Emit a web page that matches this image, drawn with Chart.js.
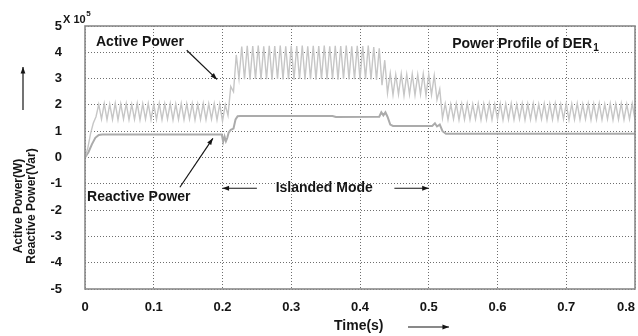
<!DOCTYPE html>
<html>
<head>
<meta charset="utf-8">
<script src="https://cdn.jsdelivr.net/npm/chart.js@4.4.1/dist/chart.umd.min.js"></script>
<style>
  html, body { margin: 0; padding: 0; background: #fff; }
</style>
</head>
<body>
<canvas id="chart" width="638" height="336"></canvas>
<script>
// data, in units of 1e5 (see "X 10^5" label)
const sampleStep = 0.004; // s, sampling interval of the active power trace
const activePower = [
  0, 0.35, 0.9, 1.3, 1.55, 2.02, 1.46, 2.05, 1.44, 2.03,
  1.45, 2.06, 1.43, 2.04, 1.46, 2.05, 1.44, 2.02, 1.45, 2.06,
  1.43, 2.04, 1.46, 2.05, 1.44, 2.03, 1.45, 2.06, 1.44, 2.04,
  1.46, 2.05, 1.43, 2.03, 1.45, 2.06, 1.44, 2.04, 1.46, 2.05,
  1.43, 2.03, 1.45, 2.06, 1.44, 2.04, 1.46, 2.05, 1.43, 2.03,
  1.38, 2.0, 1.6, 2.7, 2.5, 3.9, 3.0, 4.22, 2.98, 4.25,
  2.96, 4.24, 2.99, 4.26, 2.97, 4.23, 2.98, 4.25, 2.96, 4.24,
  2.99, 4.26, 2.97, 4.23, 2.98, 4.25, 2.96, 4.24, 2.99, 4.26,
  2.97, 4.23, 2.98, 4.25, 2.96, 4.24, 2.99, 4.26, 2.97, 4.23,
  2.98, 4.25, 2.96, 4.24, 2.99, 4.26, 2.97, 4.23, 2.98, 4.25,
  2.96, 4.24, 2.99, 4.26, 2.97, 4.2, 2.95, 4.15, 2.75, 3.7,
  2.45, 3.2, 2.38, 3.15, 2.4, 3.18, 2.36, 3.16, 2.4, 3.17,
  2.37, 3.15, 2.4, 3.18, 2.36, 3.16, 2.38, 3.12, 2.2, 2.6,
  1.5, 2.05, 1.44, 2.03, 1.46, 2.05, 1.43, 2.04, 1.45, 2.06,
  1.44, 2.03, 1.46, 2.05, 1.43, 2.04, 1.45, 2.06, 1.44, 2.03,
  1.46, 2.05, 1.43, 2.04, 1.45, 2.06, 1.44, 2.03, 1.46, 2.05,
  1.43, 2.04, 1.45, 2.06, 1.44, 2.03, 1.46, 2.05, 1.43, 2.04,
  1.45, 2.06, 1.44, 2.03, 1.46, 2.05, 1.43, 2.04, 1.45, 2.06,
  1.44, 2.03, 1.46, 2.05, 1.43, 2.04, 1.45, 2.06, 1.44, 2.03,
  1.46, 2.05, 1.43, 2.04, 1.45, 2.06, 1.44, 2.03, 1.46, 2.05,
  1.44
];
const reactiveTime = [0, 0.005, 0.01, 0.015, 0.02, 0.025, 0.199, 0.201, 0.203, 0.205,
  0.207, 0.209, 0.212, 0.216, 0.219, 0.222, 0.226, 0.36, 0.365, 0.428,
  0.431, 0.434, 0.437, 0.44, 0.444, 0.448, 0.505, 0.509, 0.512, 0.516,
  0.52, 0.525, 0.8];
const reactivePower = [0, 0.2, 0.5, 0.75, 0.86, 0.87, 0.87, 0.6, 0.8, 0.62,
  0.75, 0.95, 1.05, 1.1, 1.45, 1.57, 1.58, 1.58, 1.54, 1.55,
  1.72, 1.6, 1.72, 1.55, 1.25, 1.2, 1.2, 1.3, 1.18, 1.25,
  1.0, 0.9, 0.9];
const xTickLabels = ["0", "0.1", "0.2", "0.3", "0.4", "0.5", "0.6", "0.7", "0.8     "];
const yTickLabels = ["-5", "-4", "-3", "-2", "-1", "0", "1", "2", "3", "4", "5"];

const FONT = '"Liberation Sans", Arial, sans-serif';
const INK = "#151515";
const FRAME = "#8a8a8a";

function arrow(ctx, x1, y1, x2, y2) {
  const ang = Math.atan2(y2 - y1, x2 - x1);
  ctx.beginPath();
  ctx.moveTo(x1, y1);
  ctx.lineTo(x2, y2);
  ctx.stroke();
  ctx.beginPath();
  ctx.moveTo(x2, y2);
  ctx.lineTo(x2 - 7 * Math.cos(ang - 0.35), y2 - 7 * Math.sin(ang - 0.35));
  ctx.lineTo(x2 - 7 * Math.cos(ang + 0.35), y2 - 7 * Math.sin(ang + 0.35));
  ctx.closePath();
  ctx.fill();
}

// frame, labels and arrows
const notes = {
  id: "notes",
  afterDraw(chart) {
    const { ctx, chartArea: a, scales: { x, y } } = chart;
    const px = v => x.getPixelForValue(v);
    const py = v => y.getPixelForValue(v);
    ctx.save();

    ctx.strokeStyle = FRAME;
    ctx.lineWidth = 1.6;
    ctx.strokeRect(a.left, a.top, a.right - a.left, a.bottom - a.top);

    ctx.fillStyle = INK;
    ctx.strokeStyle = INK;
    ctx.lineWidth = 1.2;
    ctx.textBaseline = "middle";

    ctx.font = "bold 14px " + FONT;
    ctx.textAlign = "left";
    ctx.fillText("Active Power", px(0.016), py(4.4));
    ctx.fillText("Reactive Power", px(0.003), py(-1.51));
    const title = "Power Profile of DER";
    ctx.fillText(title, px(0.534), py(4.32));
    const tw = ctx.measureText(title).width;
    ctx.font = "bold 10px " + FONT;
    ctx.fillText("1", px(0.534) + tw + 1, py(4.32) + 4);

    ctx.font = "bold 14px " + FONT;
    ctx.textAlign = "center";
    ctx.fillText("Islanded Mode", px(0.348), py(-1.17));

    arrow(ctx, px(0.148), py(4.08), px(0.192), py(2.97));
    arrow(ctx, px(0.138), py(-1.13), px(0.186), py(0.73));
    arrow(ctx, px(0.25), py(-1.17), px(0.2), py(-1.17));
    arrow(ctx, px(0.45), py(-1.17), px(0.5), py(-1.17));

    // x title
    ctx.textAlign = "left";
    ctx.fillText("Time(s)", 334, 326);
    arrow(ctx, 408, 327, 449, 327);

    // exponent
    ctx.font = "bold 11px " + FONT;
    ctx.fillText("X 10", 63, 20);
    const ew = ctx.measureText("X 10").width;
    ctx.font = "bold 8px " + FONT;
    ctx.fillText("5", 63 + ew + 0.5, 14);

    // y title
    ctx.font = "bold 12px " + FONT;
    ctx.textAlign = "center";
    ctx.save();
    ctx.translate(19, 206);
    ctx.rotate(-Math.PI / 2);
    ctx.fillText("Active Power(W)", 0, 0);
    ctx.restore();
    ctx.save();
    ctx.translate(32, 206);
    ctx.rotate(-Math.PI / 2);
    ctx.fillText("Reactive Power(Var)", 0, 0);
    ctx.restore();
    arrow(ctx, 23, 110, 23, 67);

    ctx.restore();
  }
};

const activePoints = activePower.map((v, i) => ({ x: i * sampleStep, y: v }));
const reactivePoints = reactivePower.map((v, i) => ({ x: reactiveTime[i], y: v }));

const grid = {
  color: "#6e6e6e",
  lineWidth: 1,
  drawTicks: false
};
const dotted = { display: false, dash: [1, 2] };

new Chart(document.getElementById("chart"), {
  type: "line",
  data: {
    datasets: [
      {
        label: "Active Power",
        data: activePoints,
        borderColor: "#c6c6c6",
        borderWidth: 1.4,
        pointRadius: 0,
        tension: 0
      },
      {
        label: "Reactive Power",
        data: reactivePoints,
        borderColor: "#ababab",
        borderWidth: 2,
        pointRadius: 0,
        tension: 0
      }
    ]
  },
  options: {
    responsive: false,
    animation: false,
    events: [],
    layout: { padding: { top: 26, right: 3, left: 0, bottom: 0 } },
    plugins: { legend: { display: false }, tooltip: { enabled: false } },
    scales: {
      x: {
        type: "linear",
        min: 0,
        max: 0.8,
        border: dotted,
        grid,
        ticks: {
          stepSize: 0.1,
          padding: 11,
          color: INK,
          font: { family: FONT, size: 13, weight: "bold" },
          maxRotation: 0,
          callback: (v) => xTickLabels[Math.round(v * 10)]
        },
        afterFit(s) {
          s.height = 47;
          s.paddingRight = 0;
          s.paddingLeft = 0;
        }
      },
      y: {
        min: -5,
        max: 5,
        border: dotted,
        grid,
        ticks: {
          stepSize: 1,
          padding: 23,
          color: INK,
          font: { family: FONT, size: 13, weight: "bold" },
          callback: (v) => yTickLabels[Math.round(v) + 5]
        },
        afterFit(s) {
          s.width = 85;
          s.paddingTop = 0;
          s.paddingBottom = 0;
        }
      }
    }
  },
  plugins: [notes]
});
</script>
</body>
</html>
